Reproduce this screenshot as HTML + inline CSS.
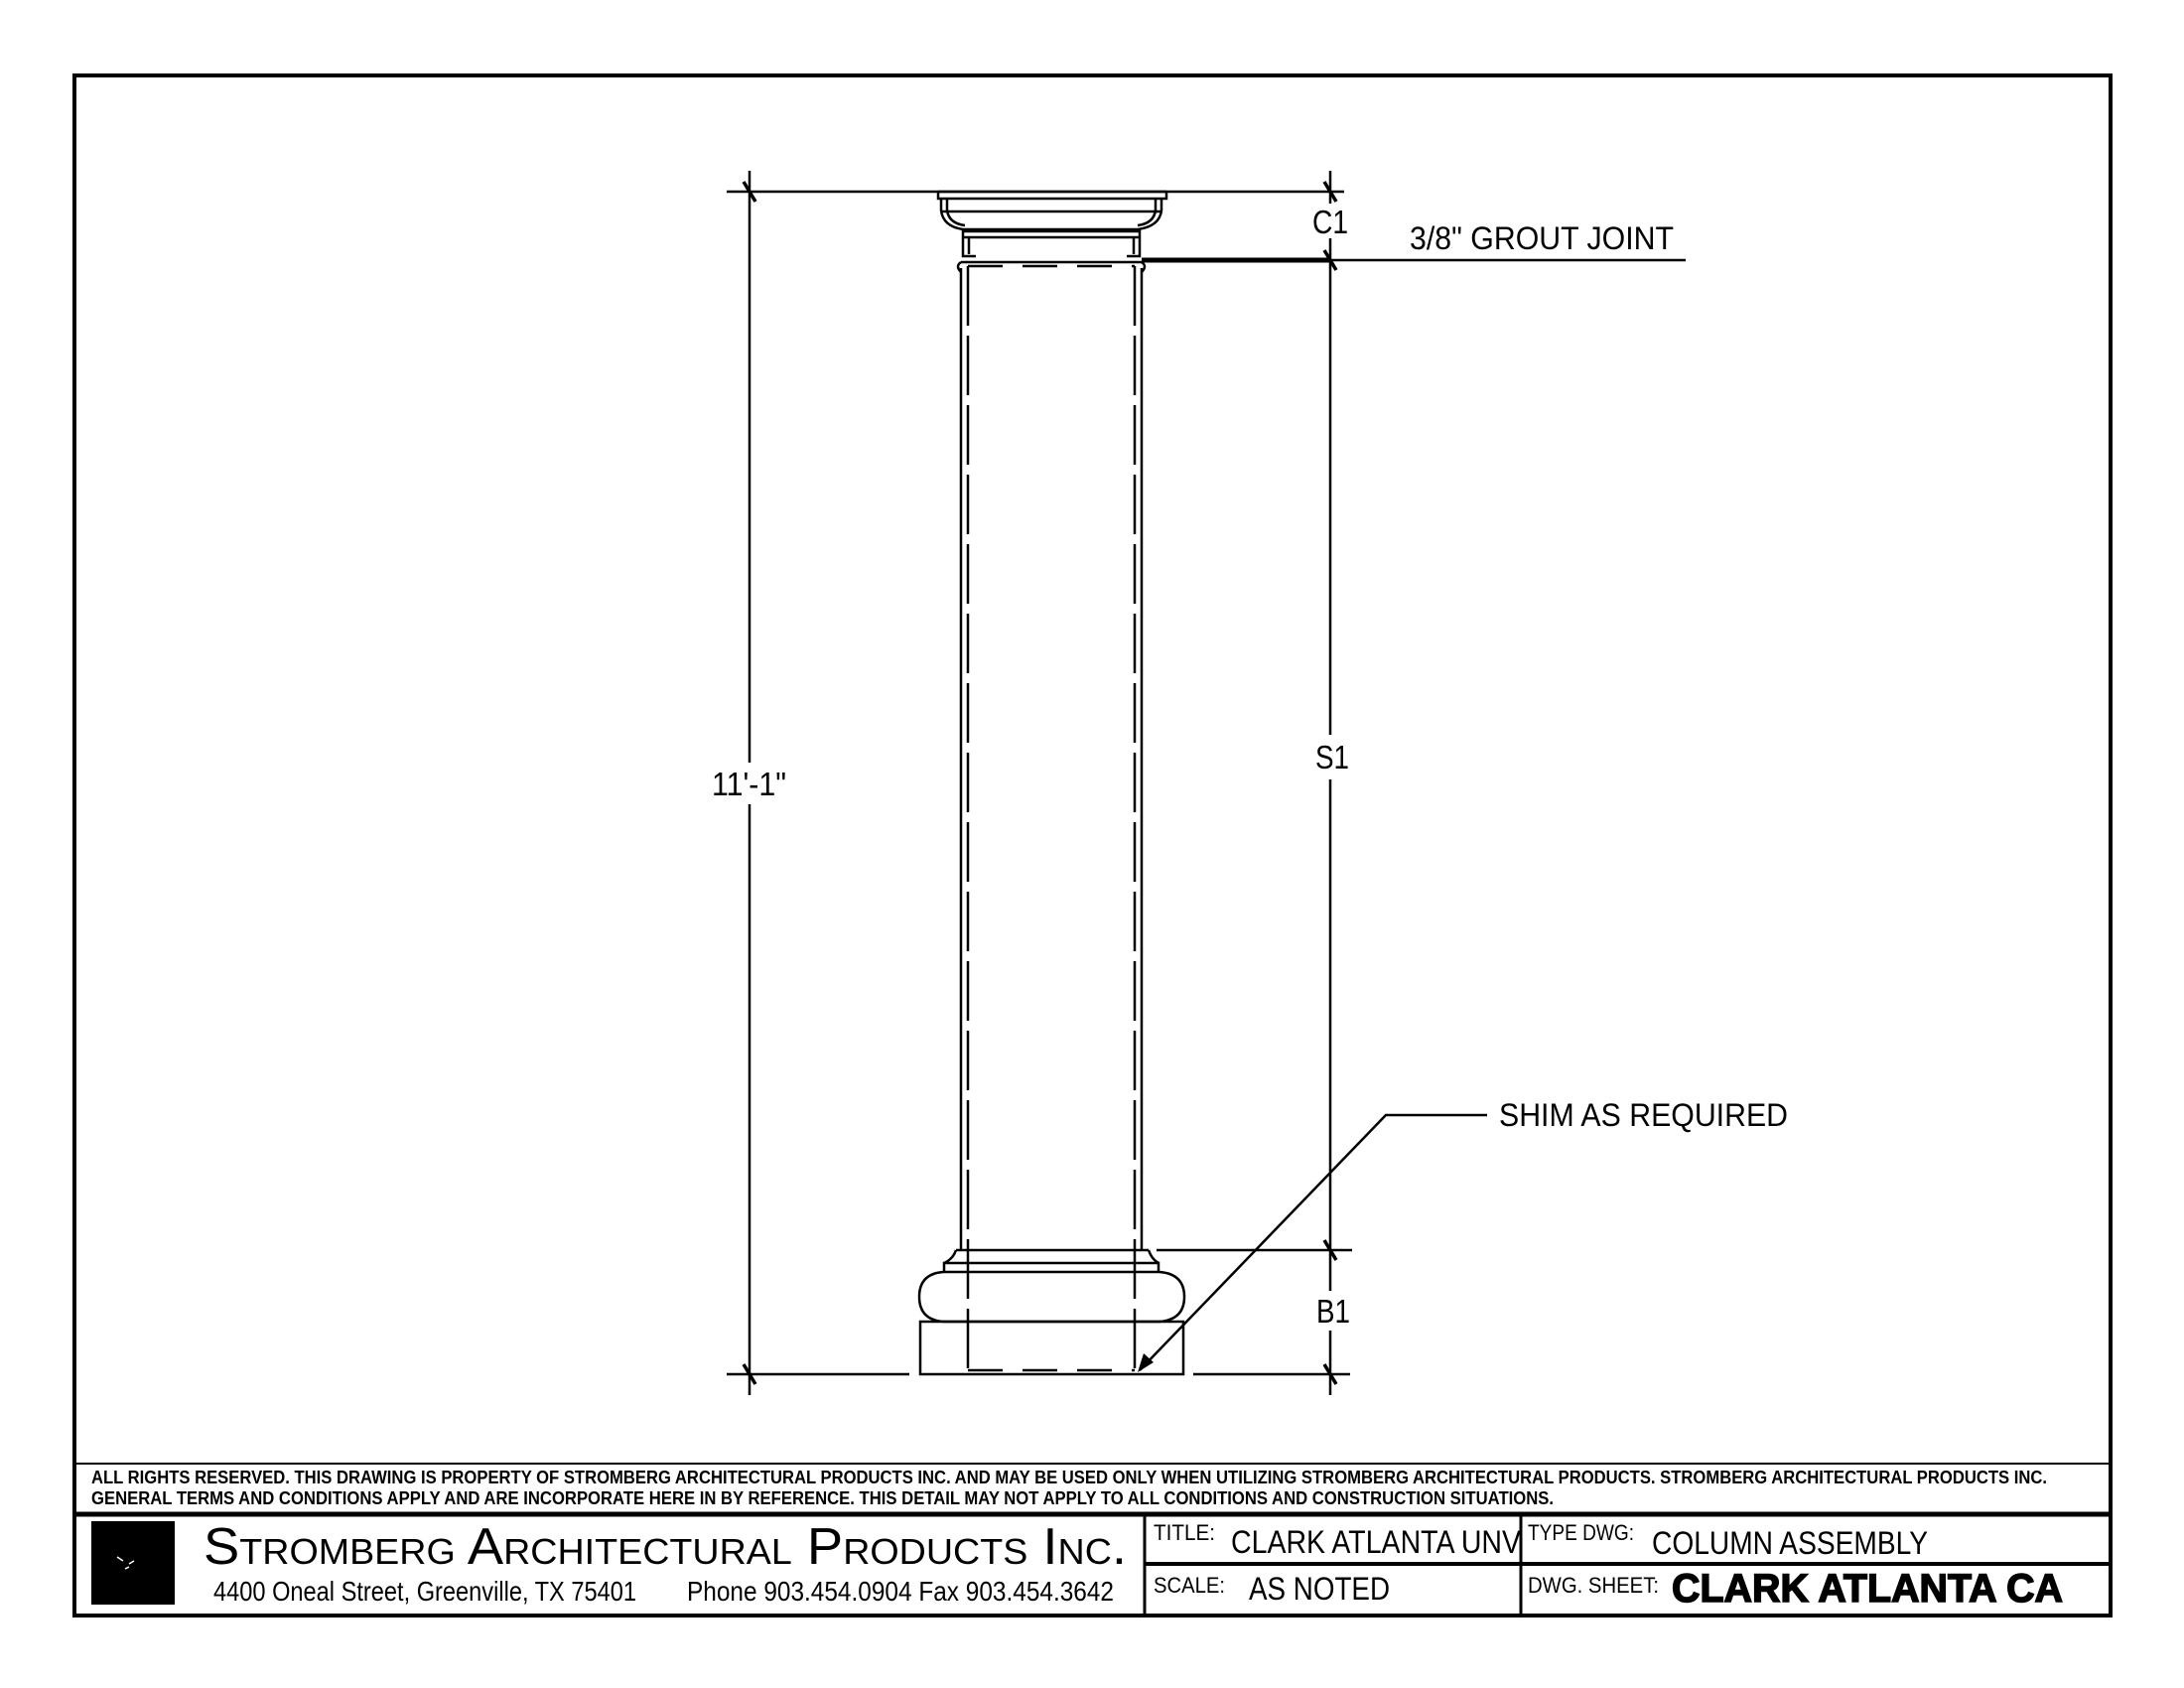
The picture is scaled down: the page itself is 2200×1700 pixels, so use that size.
<!DOCTYPE html>
<html><head><meta charset="utf-8"><style>
html,body{margin:0;padding:0;background:#fff;}
svg{display:block;}
text{font-family:"Liberation Sans",Arial,sans-serif;fill:#000;}
</style></head><body>
<svg width="2200" height="1700" viewBox="0 0 2200 1700" xmlns="http://www.w3.org/2000/svg">
<rect x="0" y="0" width="2200" height="1700" fill="#fff"/>
<rect x="75" y="76" width="2051" height="1551" fill="none" stroke="#000" stroke-width="4"/>
<line x1="75" y1="1474" x2="2126" y2="1474" stroke="#000" stroke-width="2"/>
<line x1="75" y1="1525" x2="2126" y2="1525" stroke="#000" stroke-width="5"/>
<line x1="1153" y1="1525" x2="1153" y2="1627" stroke="#000" stroke-width="3"/>
<line x1="1532" y1="1525" x2="1532" y2="1627" stroke="#000" stroke-width="3"/>
<line x1="1153" y1="1575" x2="2126" y2="1575" stroke="#000" stroke-width="4"/>

<g font-weight="bold" font-size="18">
<text x="92" y="1494" textLength="1970" lengthAdjust="spacingAndGlyphs">ALL RIGHTS RESERVED. THIS DRAWING IS PROPERTY OF STROMBERG ARCHITECTURAL PRODUCTS INC. AND MAY BE USED ONLY WHEN UTILIZING STROMBERG ARCHITECTURAL PRODUCTS.  STROMBERG ARCHITECTURAL PRODUCTS INC.</text>
<text x="92" y="1515" textLength="1473" lengthAdjust="spacingAndGlyphs">GENERAL TERMS AND CONDITIONS APPLY AND ARE INCORPORATE HERE IN BY REFERENCE.  THIS DETAIL MAY NOT APPLY TO ALL CONDITIONS AND CONSTRUCTION SITUATIONS.</text>
</g>

<rect x="92" y="1532" width="84" height="84" fill="#000"/>
<path d="M118 1568 l6 4 M130 1575 l5 -3 M126 1580 l4 -2" stroke="#fff" stroke-width="1.5"/>
<text x="205" y="1575" font-family="Liberation Serif,serif" font-size="52" style="font-variant:small-caps" textLength="930" lengthAdjust="spacingAndGlyphs">Stromberg Architectural Products Inc.</text>
<text x="215" y="1612" font-size="28" textLength="426" lengthAdjust="spacingAndGlyphs">4400 Oneal Street, Greenville, TX  75401</text>
<text x="692" y="1612" font-size="28" textLength="430" lengthAdjust="spacingAndGlyphs">Phone 903.454.0904   Fax 903.454.3642</text>

<text x="1162" y="1551" font-size="22" textLength="62" lengthAdjust="spacingAndGlyphs">TITLE:</text>
<text x="1240" y="1564" font-size="32" textLength="292" lengthAdjust="spacingAndGlyphs">CLARK ATLANTA UNV</text>
<text x="1162" y="1604" font-size="22" textLength="72" lengthAdjust="spacingAndGlyphs">SCALE:</text>
<text x="1258" y="1611" font-size="32" textLength="142" lengthAdjust="spacingAndGlyphs">AS NOTED</text>
<text x="1539" y="1551" font-size="22" textLength="107" lengthAdjust="spacingAndGlyphs">TYPE DWG:</text>
<text x="1664" y="1565" font-size="32" textLength="278" lengthAdjust="spacingAndGlyphs">COLUMN ASSEMBLY</text>
<text x="1539" y="1604" font-size="22" textLength="132" lengthAdjust="spacingAndGlyphs">DWG. SHEET:</text>
<text x="1684" y="1613" font-size="40" font-weight="bold" textLength="394" lengthAdjust="spacingAndGlyphs" stroke="#000" stroke-width="1.5">CLARK ATLANTA CA</text>

<g stroke="#000" stroke-width="2.5" fill="none">
<line x1="732" y1="193" x2="1354" y2="193"/>
<line x1="732" y1="1384" x2="916" y2="1384"/>
<line x1="1202" y1="1384" x2="1360" y2="1384"/>
<line x1="755" y1="172" x2="755" y2="768"/>
<line x1="755" y1="810" x2="755" y2="1405"/>
<line x1="1340" y1="172" x2="1340" y2="205"/>
<line x1="1340" y1="240" x2="1340" y2="740"/>
<line x1="1340" y1="785" x2="1340" y2="1300"/>
<line x1="1340" y1="1340" x2="1340" y2="1405"/>
<line x1="1165" y1="1259" x2="1362" y2="1259"/>
<line x1="1150" y1="262" x2="1698" y2="262"/>
<line x1="1150" y1="262" x2="1340" y2="262" stroke-width="5"/>
</g>
<g stroke="#000" stroke-width="3.5">
<line x1="749" y1="183" x2="761" y2="203"/>
<line x1="749" y1="1374" x2="761" y2="1394"/>
<line x1="1334" y1="183" x2="1346" y2="203"/>
<line x1="1334" y1="252" x2="1346" y2="272"/>
<line x1="1334" y1="1249" x2="1346" y2="1269"/>
<line x1="1334" y1="1374" x2="1346" y2="1394"/>
</g>
<g font-size="33">
<text x="717" y="801" textLength="75" lengthAdjust="spacingAndGlyphs">11'-1"</text>
<text x="1325" y="774" textLength="34" lengthAdjust="spacingAndGlyphs">S1</text>
<text x="1322" y="235" textLength="36" lengthAdjust="spacingAndGlyphs">C1</text>
<text x="1326" y="1332" textLength="34" lengthAdjust="spacingAndGlyphs">B1</text>
<text x="1420" y="251" font-size="32" textLength="266" lengthAdjust="spacingAndGlyphs">3/8" GROUT JOINT</text>
<text x="1510" y="1134" font-size="32" textLength="291" lengthAdjust="spacingAndGlyphs">SHIM AS REQUIRED</text>
</g>
<polyline points="1498,1123 1396,1123 1148,1380" fill="none" stroke="#000" stroke-width="2.5"/>
<polygon points="1146,1382 1152,1363 1162,1372" fill="#000"/>

<g stroke="#000" stroke-width="2.5" fill="none">
<path d="M945 193 H1175 M945 193 V200 H1175 V193"/>
<path d="M948 200 V212 Q950 228 970 231 H1146 Q1168 228 1170 212 V200"/>
<path d="M954 200 V212 Q956 225 972 227 M1164 200 V212 Q1162 225 1146 227"/>
<line x1="948" y1="213" x2="1170" y2="213"/>
<line x1="970" y1="233" x2="1148" y2="233"/>
<line x1="970" y1="239" x2="1148" y2="239"/>
<path d="M970 231 V258 H983 M1148 231 V258 H1135"/>
<path d="M976 239 V256 M1142 239 V256"/>
<path d="M968 264 Q962 268 968 274 M1150 264 Q1156 268 1150 274"/>
<line x1="968" y1="264" x2="1150" y2="264"/>
<line x1="968" y1="270" x2="968" y2="1259"/>
<line x1="1150" y1="270" x2="1150" y2="1259"/>
<line x1="975" y1="268" x2="975" y2="1384" stroke-dasharray="60 10"/>
<line x1="1143" y1="268" x2="1143" y2="1384" stroke-dasharray="60 10"/>
<line x1="975" y1="268" x2="1143" y2="268" stroke-dasharray="35 20"/>
<line x1="975" y1="1380" x2="1143" y2="1380" stroke-dasharray="35 20"/>
<path d="M963 1259 H1157 M963 1259 Q960 1268 951 1272 M1157 1259 Q1160 1268 1167 1272"/>
<path d="M951 1272 V1281 H1167 V1272 Z"/>
<path d="M950 1281 Q926 1283 926 1306 Q926 1329 950 1331 H1168 Q1193 1329 1193 1306 Q1193 1283 1168 1281"/>
<rect x="927" y="1331" width="265" height="53"/>
</g>
</svg>
</body></html>
